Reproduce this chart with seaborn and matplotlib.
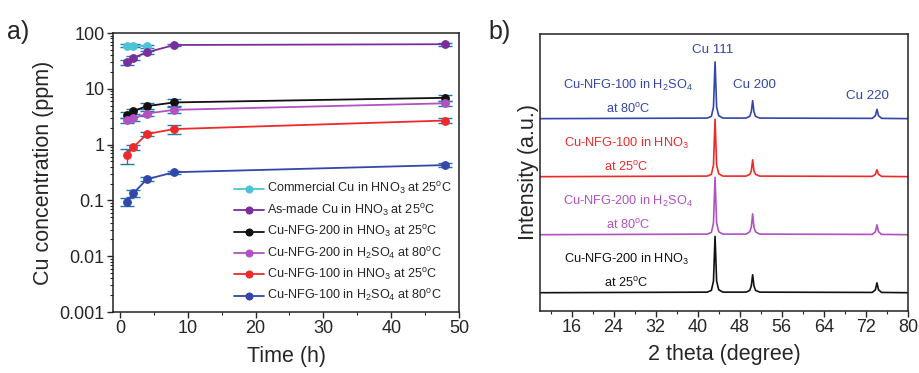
import numpy as np
import pandas as pd
import matplotlib
matplotlib.use("Agg")
import matplotlib.pyplot as plt
from matplotlib.ticker import MultipleLocator, LogLocator, NullFormatter, FixedLocator, FixedFormatter
import seaborn as sns

sns.set_style("ticks")
plt.rcParams['font.family'] = ['Liberation Sans', 'DejaVu Sans']
plt.rcParams['mathtext.fontset'] = 'custom'
plt.rcParams['mathtext.rm'] = 'Liberation Sans'
plt.rcParams['mathtext.it'] = 'Liberation Sans'

# ---------------- panel a data ----------------
series_names = [
    "Commercial Cu in HNO$_3$ at 25$^{\\rm o}$C",
    "As-made Cu in HNO$_3$ at 25$^{\\rm o}$C",
    "Cu-NFG-200 in HNO$_3$ at 25$^{\\rm o}$C",
    "Cu-NFG-200 in H$_2$SO$_4$ at 80$^{\\rm o}$C",
    "Cu-NFG-100 in HNO$_3$ at 25$^{\\rm o}$C",
    "Cu-NFG-100 in H$_2$SO$_4$ at 80$^{\\rm o}$C",
]
time_commercial = [1, 2, 4]
time_all = [1, 2, 4, 8, 48]
conc_commercial = [59, 59, 58]
conc_asmade = [30, 36, 45, 61, 63]
conc_nfg200_hno3 = [3.4, 4.0, 4.9, 5.7, 6.9]
conc_nfg200_h2so4 = [2.75, 2.95, 3.6, 4.2, 5.5]
conc_nfg100_hno3 = [0.65, 0.9, 1.55, 1.9, 2.7]
conc_nfg100_h2so4 = [0.094, 0.135, 0.24, 0.32, 0.43]
err_commercial = [4, 4, 4]
err_asmade = [3, 3, 3, 3, 4]
err_nfg200_hno3 = [0.4, 0.4, 0.6, 0.8, 0.9]
err_nfg200_h2so4 = [0.3, 0.3, 0.4, 0.5, 0.5]
err_nfg100_hno3 = [0.2, 0.1, 0.15, 0.35, 0.3]
err_nfg100_h2so4 = [0.015, 0.02, 0.02, 0.02, 0.04]

colors_a = ["#4DC4D6", "#7A2E9A", "#111111", "#B052C2", "#EC2A2A", "#3446AA"]

# ---------------- panel b data ----------------
two_theta = [10, 41.8, 42.6, 43.0, 43.3, 43.6, 44.0, 44.8, 49.2, 49.9, 50.2, 50.45,
             50.7, 51.0, 51.8, 73.2, 73.8, 74.1, 74.4, 75.0, 80]
int_nfg200_hno3 = [0, 0.01, 0.04, 0.2, 0.97, 0.2, 0.05, 0.01, 0.01, 0.04, 0.12, 0.31,
                   0.12, 0.04, 0.01, 0.005, 0.05, 0.17, 0.05, 0.005, 0]
int_nfg200_h2so4 = [0, 0.01, 0.04, 0.2, 0.99, 0.2, 0.05, 0.01, 0.01, 0.05, 0.13, 0.36,
                    0.13, 0.05, 0.01, 0.005, 0.05, 0.17, 0.05, 0.005, 0]
int_nfg100_hno3 = [0, 0.01, 0.04, 0.2, 0.99, 0.2, 0.05, 0.01, 0.01, 0.04, 0.10, 0.29,
                   0.10, 0.04, 0.01, 0.005, 0.04, 0.12, 0.04, 0.005, 0]
int_nfg100_h2so4 = [0, 0.01, 0.04, 0.2, 0.98, 0.2, 0.05, 0.01, 0.01, 0.04, 0.12, 0.31,
                    0.12, 0.04, 0.01, 0.005, 0.05, 0.16, 0.05, 0.005, 0]
trace_labels = [
    ("Cu-NFG-200 in HNO$_3$", "at 25$^{\\rm o}$C"),
    ("Cu-NFG-200 in H$_2$SO$_4$", "at 80$^{\\rm o}$C"),
    ("Cu-NFG-100 in HNO$_3$", "at 25$^{\\rm o}$C"),
    ("Cu-NFG-100 in H$_2$SO$_4$", "at 80$^{\\rm o}$C"),
]
peak_names = ["Cu 111", "Cu 200", "Cu 220"]
colors_b = ["#111111", "#B052C2", "#EC2A2A", "#3446AA"]

# ---------------- figure ----------------
fig = plt.figure(figsize=(9.19, 3.73), dpi=100)
axa = fig.add_axes([0.123, 0.1635, 0.3765, 0.748])
axb = fig.add_axes([0.5876, 0.167, 0.4004, 0.742])

# panel a
times = [time_commercial] + [time_all] * 5
concs = [conc_commercial, conc_asmade, conc_nfg200_hno3, conc_nfg200_h2so4,
         conc_nfg100_hno3, conc_nfg100_h2so4]
errs = [err_commercial, err_asmade, err_nfg200_hno3, err_nfg200_h2so4,
        err_nfg100_hno3, err_nfg100_h2so4]
rows = []
for name, t, c in zip(series_names, times, concs):
    for ti, ci in zip(t, c):
        rows.append({"Sample": name, "Time": ti, "Conc": ci})
dfa = pd.DataFrame(rows)

for name, t, c, e, col in zip(series_names, times, concs, errs, colors_a):
    axa.errorbar(t, c, yerr=e, fmt='none', ecolor=col, elinewidth=1.0,
                 capsize=5, capthick=1.0, zorder=2)

sns.lineplot(data=dfa, x="Time", y="Conc", hue="Sample", hue_order=series_names,
             palette=colors_a, marker="o", markersize=5.5, markeredgewidth=0.8,
             linewidth=1.3, ax=axa, zorder=3, estimator=None, sort=True)
for ln in axa.get_lines():
    ln.set_markeredgecolor(ln.get_color())
    ln.set_markerfacecolor(ln.get_color())

axa.set_yscale("log")
axa.set_ylim(0.001, 100)
axa.set_xlim(-1, 50)
axa.xaxis.set_major_locator(MultipleLocator(10))
axa.xaxis.set_minor_locator(MultipleLocator(5))
axa.yaxis.set_major_locator(FixedLocator([0.001, 0.01, 0.1, 1, 10, 100]))
axa.yaxis.set_major_formatter(FixedFormatter(["0.001", "0.01", "0.1", "1", "10", "100"]))
axa.yaxis.set_minor_locator(LogLocator(base=10, subs=np.arange(2, 10) * 1.0, numticks=20))
axa.yaxis.set_minor_formatter(NullFormatter())
axa.tick_params(axis='both', which='major', direction='out', length=4, width=1,
                labelsize=13, pad=2)
axa.tick_params(axis='both', which='minor', direction='out', length=2, width=0.8)
axa.set_xlabel("Time (h)", fontsize=15.5, labelpad=6)
axa.set_ylabel("Cu concentration (ppm)", fontsize=15.5, labelpad=4)
for s in axa.spines.values():
    s.set_visible(True)
    s.set_linewidth(1.1)
    s.set_color("#222222")

leg = axa.legend(loc="lower right", frameon=False, fontsize=9.1,
                 handlelength=2.4, handletextpad=0.2, labelspacing=0.42,
                 borderaxespad=0.2, bbox_to_anchor=(1.0, 0.0))
for h in leg.legend_handles:
    h.set_markersize(5)
    h.set_markeredgecolor(h.get_color())
    h.set_markerfacecolor(h.get_color())

fig.text(0.008, 0.915, "a)", fontsize=18, ha="left", va="center")

# panel b
offsets = [0, 1, 2, 3]
ints = [int_nfg200_hno3, int_nfg200_h2so4, int_nfg100_hno3, int_nfg100_h2so4]
for k, (iv, off, col) in enumerate(zip(ints, offsets, colors_b)):
    dfb = pd.DataFrame({"tt": two_theta, "I": np.array(iv) + off})
    sns.lineplot(data=dfb, x="tt", y="I", color=col, linewidth=1.2, ax=axb,
                 estimator=None, sort=False)

label_x = [26.4, 26.7, 26.4, 26.7]
for (l1, l2), off, col, lx in zip(trace_labels, offsets, colors_b, label_x):
    axb.text(lx, off + 0.57, l1, color=col, fontsize=9.2, ha="center", va="center")
    axb.text(lx, off + 0.17, l2, color=col, fontsize=9.2, ha="center", va="center")

peak_pos = [(42.9, 4.18), (50.8, 3.58), (72.3, 3.39)]
for name, (px, py) in zip(peak_names, peak_pos):
    axb.text(px, py, name, color="#3446AA", fontsize=9.6, ha="center", va="center")

axb.set_xlim(10, 80)
axb.set_ylim(-0.31, 4.46)
axb.xaxis.set_major_locator(MultipleLocator(8))
axb.xaxis.set_minor_locator(FixedLocator(np.arange(12, 80, 8)))
axb.set_yticks([])
axb.tick_params(axis='x', which='major', direction='out', length=4, width=1,
                labelsize=13, pad=2)
axb.tick_params(axis='x', which='minor', direction='out', length=2, width=0.8)
axb.set_xlabel("2 theta (degree)", fontsize=15.5, labelpad=6)
axb.set_ylabel("Intensity (a.u.)", fontsize=15.5, labelpad=1)
for s in axb.spines.values():
    s.set_visible(True)
    s.set_linewidth(1.1)
    s.set_color("#222222")

fig.text(0.532, 0.915, "b)", fontsize=18, ha="left", va="center")

fig.savefig("out.png", dpi=100)
